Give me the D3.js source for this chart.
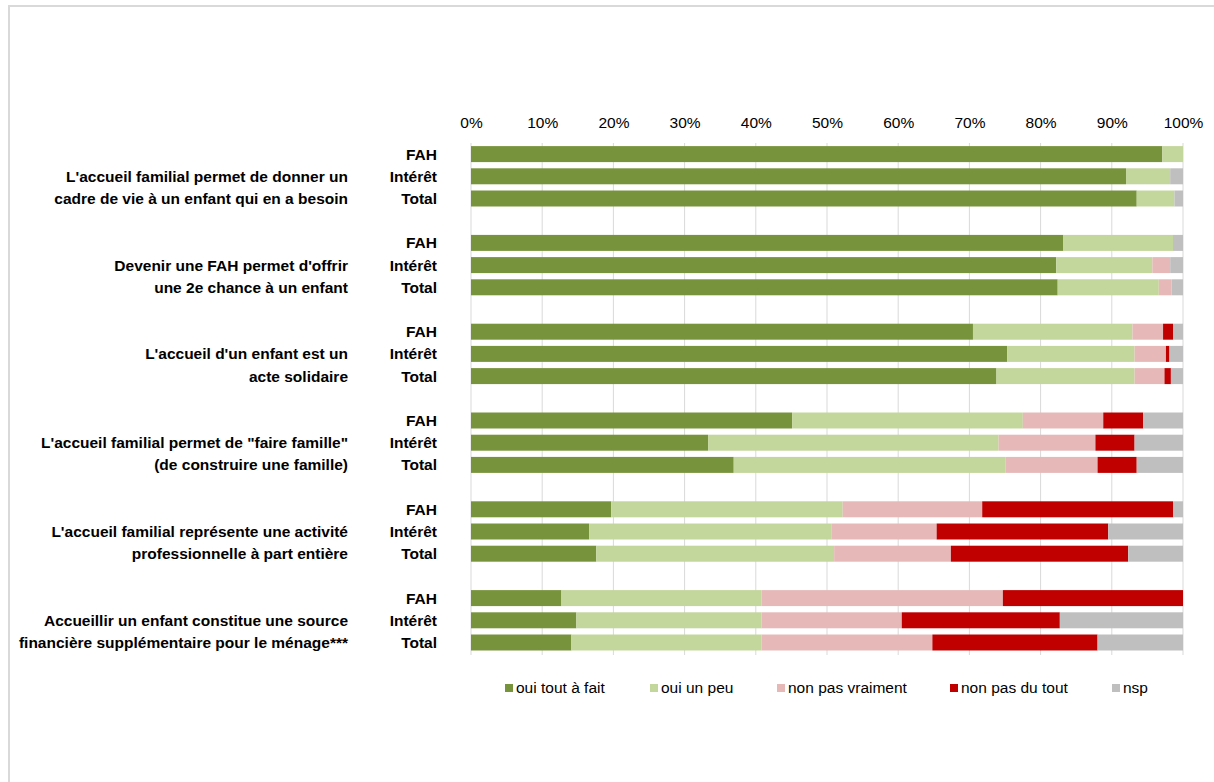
<!DOCTYPE html>
<html>
<head>
<meta charset="utf-8">
<script src="https://cdn.jsdelivr.net/npm/d3@7"></script>
<style>
  body { margin: 0; background: #fff; }
  text { font-family: "Liberation Sans", Arial, sans-serif; fill: #000; }
  .tick-label { font-size: 15.5px; }
  .row-label, .cat-label { font-size: 15.5px; font-weight: bold; }
  .legend-label { font-size: 15.5px; }
</style>
</head>
<body>
<div id="chart"></div>
<script>
// categories (two lines each)
const categories = [
  ["L'accueil familial permet de donner un", "cadre de vie à un enfant qui en a besoin"],
  ["Devenir une FAH permet d'offrir", "une 2e chance à un enfant"],
  ["L'accueil d'un enfant est un", "acte solidaire"],
  ["L'accueil familial permet de \"faire famille\"", "(de construire une famille)"],
  ["L'accueil familial représente une activité", "professionnelle à part entière"],
  ["Accueillir un enfant constitue une source", "financière supplémentaire pour le ménage***"]
];
const rows = ["FAH", "Intérêt", "Total"];
const seriesNames = ["oui tout à fait", "oui un peu", "non pas vraiment", "non pas du tout", "nsp"];
const seriesColors = ["#77933C", "#C3D69B", "#E6B9B8", "#C00000", "#BFBFBF"];
const tickValues = [0, 10, 20, 30, 40, 50, 60, 70, 80, 90, 100];

// values per category, per row (FAH, Intérêt, Total), per series (%)
const ouiToutAFait = [
  [97.1, 92.0, 93.5],
  [83.2, 82.2, 82.4],
  [70.5, 75.3, 73.8],
  [45.1, 33.3, 36.9],
  [19.7, 16.6, 17.6],
  [12.7, 14.8, 14.1]
];
const ouiUnPeu = [
  [2.9, 6.2, 5.3],
  [15.4, 13.5, 14.2],
  [22.4, 17.9, 19.4],
  [32.4, 40.8, 38.2],
  [32.5, 34.0, 33.4],
  [28.1, 26.0, 26.7]
];
const nonPasVraiment = [
  [0, 0, 0],
  [0, 2.5, 1.8],
  [4.3, 4.4, 4.2],
  [11.3, 13.6, 12.9],
  [19.6, 14.8, 16.4],
  [33.9, 19.7, 24.0]
];
const nonPasDuTout = [
  [0, 0, 0],
  [0, 0, 0],
  [1.4, 0.5, 0.9],
  [5.6, 5.5, 5.5],
  [26.8, 24.1, 24.9],
  [25.3, 22.2, 23.2]
];
const nsp = [
  [0, 1.8, 1.2],
  [1.4, 1.8, 1.6],
  [1.4, 1.9, 1.7],
  [5.6, 6.8, 6.5],
  [1.4, 10.5, 7.7],
  [0, 17.3, 12.0]
];

const seriesValues = [ouiToutAFait, ouiUnPeu, nonPasVraiment, nonPasDuTout, nsp];

const width = 1214, height = 782;

const svg = d3.select("#chart")
  .append("svg")
  .attr("width", width)
  .attr("height", height);

// light frame
svg.append("path")
  .attr("d", `M9,${height} L9,6 L${width},6`)
  .attr("fill", "none")
  .attr("stroke", "#D9D9D9")
  .attr("stroke-width", 2);

// scales
const xScale = d3.scaleLinear().domain([0, 100]).range([471, 1183]);
const groupScale = d3.scaleBand()
  .domain(d3.range(categories.length))
  .range([143, 143 + 88.8 * categories.length]);
const rowScale = d3.scaleBand()
  .domain(rows)
  .range([0, 66.6])
  .paddingInner(0.28)
  .paddingOuter(0.14);

// gridlines
svg.append("g")
  .selectAll("line")
  .data(tickValues)
  .join("line")
  .attr("x1", d => xScale(d))
  .attr("x2", d => xScale(d))
  .attr("y1", 143)
  .attr("y2", 655)
  .attr("stroke", "#D9D9D9")
  .attr("stroke-width", 1);

// top axis labels
const xAxis = d3.axisTop(xScale)
  .tickValues(tickValues)
  .tickFormat(d => d + "%")
  .tickSize(0)
  .tickPadding(0);

const xAxisG = svg.append("g")
  .attr("transform", "translate(0,128)")
  .call(xAxis);
xAxisG.select(".domain").remove();
xAxisG.selectAll("text")
  .attr("class", "tick-label")
  .attr("font-size", null)
  .attr("font-family", null)
  .attr("fill", "#000");

// stacked data
const bars = [];
categories.forEach((cat, ci) => {
  rows.forEach((row, ri) => {
    let x0 = 0;
    seriesValues.forEach((vals, si) => {
      const v = vals[ci][ri];
      bars.push({ ci, row, si, x0, x1: x0 + v });
      x0 += v;
    });
  });
});

svg.append("g")
  .selectAll("rect")
  .data(bars.filter(d => d.x1 > d.x0))
  .join("rect")
  .attr("x", d => xScale(d.x0))
  .attr("width", d => xScale(d.x1) - xScale(d.x0))
  .attr("y", d => groupScale(d.ci) + rowScale(d.row))
  .attr("height", rowScale.bandwidth())
  .attr("fill", d => seriesColors[d.si]);

// row labels
const rowLabels = [];
categories.forEach((cat, ci) => rows.forEach(row => rowLabels.push({ ci, row })));

svg.append("g")
  .selectAll("text")
  .data(rowLabels)
  .join("text")
  .attr("class", "row-label")
  .attr("x", 437)
  .attr("y", d => groupScale(d.ci) + rowScale(d.row) + rowScale.bandwidth() / 2)
  .attr("dy", "0.35em")
  .attr("text-anchor", "end")
  .text(d => d.row);

// category labels
const catG = svg.append("g")
  .selectAll("text")
  .data(categories)
  .join("text")
  .attr("class", "cat-label")
  .attr("text-anchor", "end");

catG.selectAll("tspan")
  .data((d, i) => d.map((line, li) => ({ line, ci: i, row: rows[li + 1] })))
  .join("tspan")
  .attr("x", 348)
  .attr("y", d => groupScale(d.ci) + rowScale(d.row) + rowScale.bandwidth() / 2)
  .attr("dy", "0.35em")
  .text(d => d.line);

// legend
const legendX = [505, 650, 777, 950, 1112];
const legend = svg.append("g")
  .selectAll("g")
  .data(seriesNames)
  .join("g")
  .attr("transform", (d, i) => `translate(${legendX[i]},684)`);

legend.append("rect")
  .attr("width", 8)
  .attr("height", 8)
  .attr("fill", (d, i) => seriesColors[i]);

legend.append("text")
  .attr("class", "legend-label")
  .attr("x", 11)
  .attr("y", 4)
  .attr("dy", "0.35em")
  .text(d => d);
</script>
</body>
</html>
